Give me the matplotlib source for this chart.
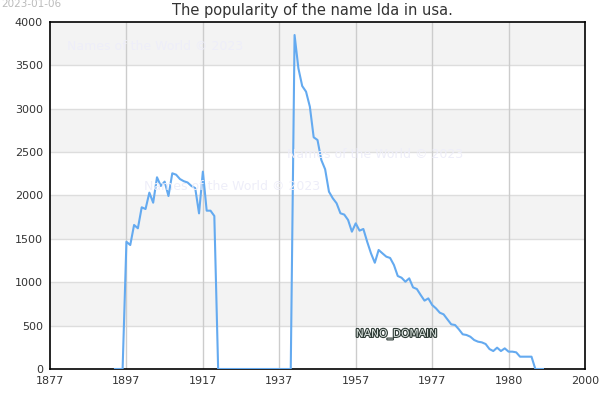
import numpy as np
import matplotlib.pyplot as plt
import matplotlib.patheffects as pe

# index positions of the points on the category axis
idx = list(range(17, 130))
counts = [0, 0, 0,
          1467, 1429, 1660, 1622, 1864, 1844, 2033, 1917, 2210, 2110,
          2160, 1994, 2256, 2240, 2190, 2165, 2150, 2110, 2085, 1794,
          2275, 1825, 1825, 1764,
          0, 0, 0, 0, 0, 0, 0, 0, 0, 0, 0, 0, 0, 0, 0, 0, 0, 0, 0, 0,
          3850, 3466, 3262, 3197, 3024, 2671, 2640, 2409, 2302, 2044,
          1968, 1910, 1795, 1780, 1718, 1583, 1679, 1595, 1614, 1467,
          1333, 1225, 1372, 1333, 1295, 1280, 1199, 1072, 1052, 1006,
          1045, 941, 922, 853, 788, 814, 738, 699, 649, 630, 572, 515,
          507, 457, 400, 392, 372, 334, 315, 307, 288, 230, 207, 246,
          207, 238, 200, 200, 192, 142, 142, 142, 142,
          0, 0, 0]
tick_pos = [0, 20, 40, 60, 80, 100, 120, 140]
tick_labels = ['1877', '1897', '1917', '1937', '1957', '1977', '1980', '2000']

fig = plt.figure(figsize=(6, 4), dpi=100)
ax = fig.add_axes([50 / 600, 1 - 369 / 400, 535 / 600, 347 / 400])

# alternating bands
for lo in range(0, 4000, 500):
    if (lo // 500) % 2 == 1:
        ax.axhspan(lo, lo + 500, color='#f3f3f3', zorder=0, lw=0)
for y in range(500, 4000, 500):
    ax.axhline(y, color='#dddddd', lw=1, zorder=1)
for x in tick_pos[1:-1]:
    ax.axvline(x, color='#cccccc', lw=1, zorder=1)

wm = '#eeeef9'
fig.text(67 / 600, 1 - 47 / 400, 'Names of the World © 2023', color=wm, fontsize=9, va='center')
fig.text(144 / 600, 1 - 186 / 400, 'Names of the World © 2023', color=wm, fontsize=9, va='center')
fig.text(287 / 600, 1 - 155 / 400, 'Names of the World © 2023', color=wm, fontsize=9, va='center')

ax.plot(idx, counts, color='#64aaf0', lw=1.5, zorder=3)

ax.text(80, 400, 'NANO_DOMAIN', fontsize=7.7, color='#e0e8e4', va='center', ha='left', zorder=4,
        path_effects=[pe.withStroke(linewidth=1.6, foreground='#2f3b36')])

ax.set_xlim(0, 140)
ax.set_ylim(0, 4000)
ax.set_xticks(tick_pos)
ax.set_xticklabels(tick_labels)
ax.set_yticks(range(0, 4001, 500))
ax.tick_params(axis='both', length=0, labelsize=8, colors='#333333', pad=5)
for s in ax.spines.values():
    s.set_color('black')
    s.set_linewidth(1.2)

fig.text(312 / 600, 1 - 11 / 400, 'The popularity of the name Ida in usa.', ha='center', va='center',
         fontsize=10.5, color='#333333')
fig.text(1 / 600, 1 - 4 / 400, '2023-01-06', ha='left', va='center', fontsize=7.5, color='#bbbbbb')

fig.savefig('out.png', dpi=100)
